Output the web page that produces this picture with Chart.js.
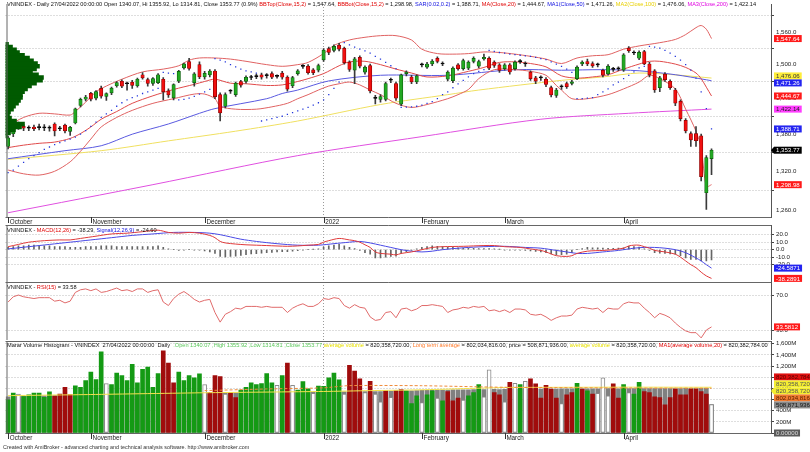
<!DOCTYPE html>
<html>
<head>
<meta charset="utf-8">
<title>VNINDEX Daily</title>
<script src="https://cdn.jsdelivr.net/npm/chart.js@4.4.1/dist/chart.umd.min.js"></script>
<style>
html,body{margin:0;padding:0;background:#fff;}
body{width:810px;height:452px;position:relative;overflow:hidden;font-family:"Liberation Sans",Arial,sans-serif;}
canvas{position:absolute;left:0;}
.ttl{position:absolute;left:7px;font-size:5.6px;line-height:8px;white-space:nowrap;color:#111;}
.r{color:#e00000}.b{color:#1010e0}.y{color:#e8d000}.m{color:#e000e0}.g{color:#5cc85c}.o{color:#ff7a2a}.yy{color:#e8e000}
.foot{position:absolute;left:3px;top:444px;font-size:5.4px;line-height:7px;color:#333;white-space:nowrap;}
</style>
</head>
<body>
<canvas id="cPrice" width="810" height="226" style="top:0px"></canvas>
<canvas id="cMacd" width="810" height="57" style="top:225px"></canvas>
<canvas id="cRsi" width="810" height="58" style="top:282px"></canvas>
<canvas id="cVol" width="810" height="101" style="top:341px"></canvas>

<div class="ttl" style="top:0px">VNINDEX - Daily 27/04/2022 00:00:00 Open 1340.07, Hi 1355.92, Lo 1314.81, Close 1353.77 (0.9%) <span class="r">BBTop(Close,15,2)</span> = 1,547.64, <span class="r">BBBot(Close,15,2)</span> = 1,298.98, <span class="b">SAR(0.02,0.2)</span> = 1,388.71, <span class="r">MA(Close,20)</span> = 1,444.67, <span class="b">MA1(Close,50)</span> = 1,471.26, <span class="y">MA2(Close,100)</span> = 1,476.06, <span class="m">MA3(Close,200)</span> = 1,422.14</div>
<div class="ttl" style="top:226px">VNINDEX - <span class="r">MACD(12,26)</span> = -38.29, <span class="b">Signal(12,26,9)</span> = -24.60</div>
<div class="ttl" style="top:283px">VNINDEX - <span class="r">RSI(15)</span> = 33.58</div>
<div class="ttl" style="top:341px;font-size:5.65px">Marar Volume Histogram - VNINDEX&nbsp; 27/04/2022 00:00:00&nbsp; Daily&nbsp; <span class="g">.Open 1340.07 ,High 1355.92 ,Low 1314.81 ,Close 1353.77</span> <span class="yy">average volume</span> = 820,358,720.00, <span class="o">Long term average</span> = 802,034,816.00, price = 508,871,936.00, <span class="yy">average volume</span> = 820,358,720.00, <span class="r">MA1(average volume,20)</span> = 820,382,784.00</div>
<div class="foot">Created with AmiBroker - advanced charting and technical analysis software. http://www.amibroker.com</div>

<script>
// ---------------- DATA ----------------
const months = [
  ['2021-10', [8,11,12,13,14,15,18,19,20,21,22,25,26,27,28,29]],
  ['2021-11', [1,2,3,4,5,8,9,10,11,12,15,16,17,18,19,22,23,24,25,26,29,30]],
  ['2021-12', [1,2,3,6,7,8,9,10,13,14,15,16,17,20,21,22,23,24,27,28,29,30,31]],
  ['2022-01', [4,5,6,7,10,11,12,13,14,17,18,19,20,21,24,25,26,27,28]],
  ['2022-02', [7,8,9,10,11,14,15,16,17,18,21,22,23,24,25,28]],
  ['2022-03', [1,2,3,4,7,8,9,10,11,14,15,16,17,18,21,22,23,24,25,28,29,30,31]],
  ['2022-04', [1,4,5,6,7,8,12,13,14,15,18,19,20,21,22,25,26,27]]
];
const monthNames = {'2021-10':'October','2021-11':'November','2021-12':'December','2022-01':'2022','2022-02':'February','2022-03':'March','2022-04':'April'};
const blankBars = 11;

const open = [1360,1380.7,1398,1393,1390,1392,1391,1391,1390,1397,
  1389,1395,1384.5,1398.6,1428.5,1439,1449.3,1441,1458,1444,
  1450,1462.5,1470.5,1466,1469,1462.5,1482,1473.5,1466.5,1468,
  1474,1453.5,1441.5,1470.5,1494,1505.5,1468,1500,1478,1481.5,
  1488.6,1447.1,1427,1453,1447.1,1470,1470,1477,1478.5,1482,
  1480.5,1484,1479,1485,1477.5,1462.5,1484,1497,1497.3,1490.8,
  1490,1508.6,1529,1526,1535.5,1529.5,1504.4,1490,1513.3,1486.5,
  1498.5,1440.5,1438.8,1438.8,1472.2,1466.5,1430.7,1484,1478,1469.4,
  1499.7,1495.4,1501.2,1511.5,1501.2,1474,1471.5,1499.7,1492.7,1493.8,
  1505.7,1497.3,1510.4,1511.5,1504.4,1499.7,1492.7,1499.7,1492.7,1505.5,
  1501.2,1486.8,1476.3,1476.3,1474,1459.1,1445.6,1460.8,1466.5,1466.5,
  1475.2,1501.2,1505.7,1502,1499.5,1489.8,1483.7,1491.5,1492.5,1490,
  1530.2,1521,1511.5,1523.5,1501.2,1488.8,1459.1,1483,1470.5,1455.1,
  1435.3,1403,1381,1381,1377.4,1286.4,1340.07];
const high = [1377,1396,1400,1396,1394,1395,1397,1396,1394,1399,
  1393,1397,1393,1424,1441,1446,1451,1454,1462,1450,
  1460,1470,1473,1469,1472,1476,1486,1476,1477,1484,
  1477,1457,1466,1490,1503,1511.5,1486,1505,1488,1491,
  1491,1450,1450,1456,1469,1472,1480,1481,1483,1485,
  1484,1487,1482,1488,1480,1479,1491,1500,1500,1493,
  1501,1529,1532,1536,1539,1532,1507,1513,1516,1498,
  1501,1446,1447,1469,1476,1469,1483,1489,1481,1482,
  1503,1504,1509,1514,1505,1489,1496,1502,1510,1507,
  1514,1508,1519,1514,1507,1502,1502,1502,1507,1509,
  1505,1489,1479,1480,1477,1462,1458,1464,1469,1472,
  1498,1507,1510,1505,1503,1492,1500,1495,1496,1520,
  1533,1525,1525,1526,1504,1491,1479,1486,1473,1458,
  1438,1406,1384,1392.7,1380,1345,1355.92];
const low = [1356,1376,1388,1386,1386,1386,1387,1386,1385,1377,
  1386,1382,1378,1397,1426,1436,1436,1438,1441,1437,
  1447,1460,1459,1455,1458,1460,1474,1462,1463,1466,
  1438,1442,1438,1468,1492,1490,1462,1475,1474,1478,
  1440,1402,1424,1449,1444,1460,1467,1473,1475,1474,
  1476,1475,1476,1474,1453,1459,1481,1493,1483,1482,
  1487,1506,1518,1523,1525,1501,1488,1466,1494,1483,
  1450,1431,1434,1436,1468,1437,1428,1480,1466,1466,
  1496,1493,1498,1503,1498,1471,1468,1490,1490,1491,
  1503,1494,1508,1491,1495,1486,1490,1483,1490,1502,
  1497,1472,1466,1472,1461,1443,1442,1456,1458,1464,
  1473,1498,1498,1495,1496,1478,1481,1488,1489,1488,
  1522,1518,1509,1500,1478,1451,1452,1470,1456,1428,
  1402,1382,1360,1360,1305,1261,1314.81];
const close = [1374,1393.7,1391,1390,1390.5,1389,1391.5,1390.5,1390.5,1385.5,
  1389.5,1385.5,1391.5,1422.6,1439,1443,1439.1,1452.2,1444.5,1448.8,
  1458.5,1468,1462,1466.5,1463,1474,1476.3,1466.5,1475,1482,
  1452.2,1446.6,1464.5,1487.8,1501.4,1493,1483.5,1478,1484.5,1488.6,
  1443.7,1415.7,1447,1453.5,1467,1463.6,1477.5,1477.5,1479,1477.5,
  1481,1477.5,1479.5,1477.5,1456.5,1477,1488.8,1497.5,1485.6,1485.6,
  1498.5,1526.5,1522,1533.1,1528.3,1503.5,1491.5,1510.5,1497.3,1495.5,
  1453.4,1441,1443.7,1466.5,1472.7,1440.8,1481.6,1486.8,1469.4,1479.8,
  1500.2,1501.2,1506.2,1505.7,1501.7,1486.8,1493.8,1492.7,1507.5,1504.4,
  1511.5,1505.7,1513.2,1493.8,1498.5,1489.8,1499.7,1486.8,1504.4,1506,
  1501.7,1475,1470.5,1476.8,1464.7,1446.6,1455.1,1461.3,1460.8,1469.4,
  1495.5,1504.4,1501.2,1497.8,1500,1481.1,1497.3,1492,1493,1517.7,
  1525.4,1521.5,1522.3,1501.2,1481.6,1455.1,1476.3,1473.3,1459.1,1432.4,
  1406.1,1385.5,1370.5,1369.4,1311.4,1341.7,1353.77];

const sar = [1318,1322,1328,1334,1340,1345,1350,1355,1359,1363,
  1366,1369,1372,1375,1380,1386,1393,1400,1408,1414,
  1420,1427,1433,1438,1442,1445,1449,1452,1455,1458,
  1486,1485,1484,1438,1439,1441,1444,1448,1452,1456,
  1511,1508,1505,1500,1496,1492,1489,1487,1485,1402,
  1404,1406,1408,1410,1413,1416,1419,1422,1425,1429,
  1433,1438,1447,1458,1469,1540,1536,1532,1528,1525,
  1521,1515,1510,1504,1498,1493,1425,1425.5,1426,1427,
  1429,1432,1435,1440,1447,1452,1459,1466,1472,1478,
  1484,1488,1491,1526,1524,1522,1521,1519,1518,1517,
  1516,1515,1513,1511,1509,1505,1501,1497,1492,1486,
  1440,1440,1441,1442,1447,1452,1457,1464,1469,1475,
  1481,1487,1494,1497,1533,1532,1530,1526,1521,1515,
  1508,1500,1490,1476,1452,1423,1388.71];

// sampled line readings [barIndex, value]
const bbTopPts = [[0,1394],[3,1408],[6,1415],[9,1414],[12,1412],[13,1418],[15,1434],[17,1452],[19,1462],[22,1474],[26,1487],[30,1492],[33,1498],[35,1508],[37,1512],[40,1512],[43,1510],[46,1506],[50,1500],[53,1497],[56,1500],[58,1504],[61,1520],[63,1535],[66,1545],[69,1550],[72,1553],[75,1553],[78,1545],[80,1528],[83,1520],[86,1519],[89,1520],[92,1523],[95,1522],[98,1519],[101,1515],[104,1510],[107,1502],[110,1512],[113,1516],[116,1518],[119,1528],[122,1534],[126,1540],[129,1546],[131,1555],[133,1568],[134,1572],[135,1565],[136,1547.64]];
const bbBotPts = [[0,1322],[3,1316],[6,1314],[9,1320],[12,1335],[14,1352],[16,1372],[18,1392],[21,1408],[24,1420],[28,1432],[32,1440],[36,1448],[38,1448],[40,1440],[41,1427],[44,1422],[48,1422],[51,1426],[54,1432],[56,1440],[58,1447],[60,1455],[62,1462],[64,1466],[66,1469],[68,1464],[70,1455],[72,1447],[75,1432],[78,1425],[81,1430],[85,1440],[87,1447],[89,1456],[91,1475],[94,1491],[98,1491],[101,1488],[104,1481],[106,1463],[107,1455],[109,1440],[112,1440],[116,1447],[119,1457],[122,1469],[124,1481],[126,1475],[129,1457],[131,1422],[133,1385],[134,1357],[135,1296],[136,1298.98]];
const ma20Pts = [[0,1358],[3,1362],[6,1365],[9,1367],[12,1373],[14,1381],[16,1392],[18,1405],[21,1418],[24,1432],[28,1445],[32,1456],[36,1465],[38,1470],[40,1474],[43,1467],[46,1466],[50,1463],[53,1464],[56,1470],[58,1475],[61,1484],[64,1498],[66,1505],[69,1506],[72,1500],[75,1492],[78,1485],[81,1478],[85,1480],[89,1488],[92,1495],[95,1504],[98,1505],[101,1502],[104,1496],[107,1480],[110,1476],[113,1478],[116,1482],[119,1492],[122,1501],[124,1506],[126,1506],[129,1501],[131,1495],[133,1485],[134,1475],[135,1460],[136,1444.67]];
const ma50Pts = [[0,1340],[11,1353],[18,1361],[24,1380],[31,1397],[37,1415],[40,1423],[50,1440],[53,1449],[56,1455],[62,1471],[72,1481],[85,1481],[98,1491],[107,1490],[115,1491],[122,1489],[129,1482],[135,1473],[136,1471.26]];
const ma100Pts = [[0,1339],[18,1353],[31,1369],[44,1385],[56,1402],[72,1430],[85,1447],[91,1455],[107,1472],[115,1478],[122,1485],[130,1481],[136,1476.06]];
const ma200Pts = [[0,1256],[28,1299],[56,1345],[80,1376],[103,1405],[120,1415],[136,1422.14]];

// volume-at-price profile (left side)
const profPrice = [1537,1532,1527,1522,1517,1512,1507,1502,1497,1492,1487,1482,1477,1472,1467,1462,1457,1452,1447,1442,1437,1432,1427,1422,1417,1412,1407,1402,1397,1392,1387,1382,1377];
const profVol = [3,7,11,14,19,24,28,32,34,31,27,33,38,37,31,26,22,19,17,17,15,13,10,8,5,4,6,11,19,16,10,5,2];

// MACD
const macdPts = [[0,4],[2,7],[4,10],[7,12],[10,13],[12,13],[14,15],[17,18],[20,21],[23,22],[26,24],[29,26],[31,23],[33,22],[35,23],[37,22],[39,19],[40,16],[41,11],[42,9],[44,7.5],[46,6.5],[50,5.5],[54,4.5],[56,5],[58,6],[60,7],[61,10],[62,12],[64,15],[66,13],[67,12],[68,10],[69,6.5],[70,3],[71,-3],[72,-5],[74,-6],[75,-7],[76,-5],[78,-3],[80,0],[82,3],[84,4],[88,4.5],[92,5.5],[94,5.5],[96,4],[99,3],[101,1],[103,-1],[104,-3],[106,-8],[108,-9],[109,-8],[110,-5],[112,-2],[115,-1],[117,0],[119,2],[120,5],[121,6],[122,6],[123,4],[124,2],[125,-1],[127,-3],[129,-6],[130,-10],[131,-15],[132,-20],[133,-24],[134,-30],[135,-35],[136,-38.29]];
const signalPts = [[0,1],[4,4],[8,7],[12,10],[16,13],[20,16],[24,19],[28,21],[32,23],[36,23],[39,22],[41,20],[43,17],[45,14],[48,11],[52,8],[56,6],[60,6],[63,8],[66,10],[68,11],[70,9],[72,6],[74,3],[76,0],[78,-2],[80,-3],[82,-2],[84,0],[88,2.5],[92,4],[96,4.5],[100,3],[103,2],[106,-1],[108,-3],[110,-5],[112,-5],[115,-3],[118,-1],[121,2],[123,3],[125,3],[127,2],[129,0],[131,-4],[133,-11],[134,-15],[135,-20],[136,-24.60]];
const macdHist = [3,4,5,5,6,6,5,5,5,4,4,4,3,
  3,3,4,4,4,5,5,5,4,4,4,4,4,4,4,4,5,
  3,1,0,-1,-0.5,0,-0.5,-0.7,-1.8,-3,
  -5,-9,-9.5,-9,-8.5,-7.5,-6.7,-5.8,-5.2,-4.6,
  -4,-3.5,-3,-2.7,-2.5,-1.9,-1.2,-0.5,0,0.5,1,
  3.5,5,6,7,5,3,1.5,-1,-4,
  -6,-11,-11,-10,-9,-8.5,-5,-3,-1,1,
  3,4,5,4.5,4,3.5,3,2.4,2,1.8,1.7,1.6,1.5,
  1.3,1.1,0.3,-0.5,-0.5,-0.4,-0.4,-1,-1.5,-2.2,-3,-4,-5.5,-7,-6.5,-6,-4,
  0,1.5,3,2.6,2.3,2,1.8,1.7,2,2.3,4.5,4,3.5,
  1,-1,-4,-4.5,-5,-5.5,-6,-8,-11,-13,-13,-15,-15,-13.7];

// RSI(15)
const rsi = [62,68,70,68,67,66,67,67,67,63,
  64,61,63,73,76,77,75,77,73,74,
  76,78,75,76,74,77,77,73,75,76,
  62,58,66,71,74,70,65,62,64,65,
  50,39,48,51,55,54,57,57,57,56,
  57,56,56,56,50,55,58,60,57,57,
  60,66,65,67,66,58,55,59,56,55,
  45,41,42,50,51,44,54,55,52,54,
  58,58,59,58,57,50,53,54,56,55,
  57,56,57,52,53,51,53,50,54,54,
  53,48,47,48,45,41,44,46,46,47,
  54,56,55,54,55,50,55,54,54,60,
  62,61,61,55,50,44,49,47,44,38,
  33,29,27,27,21,30,33.58];

// Volume (millions)
const volM = [595,716,698,655,685,716,716,640,740,660,
  700,820,690,845,818,940,1091,958,1455,885,
  867,1073,1031,940,1231,898,1140,1182,818,1067,
  1473,1255,900,1091,940,1031,989,1061,867,727,
  1031,1013,698,727,636,771,818,898,867,885,
  1067,898,855,1031,1255,855,771,920,790,710,
  843,836,989,1073,952,700,1212,1109,970,727,
  927,698,560,760,640,760,780,758,527,667,
  545,685,758,625,576,745,576,625,589,667,
  727,867,649,1134,727,685,560,909,891,867,
  927,970,880,625,855,789,625,527,685,727,
  891,789,758,698,710,989,667,880,625,867,
  727,698,909,745,727,649,636,503,636,789,
  685,685,789,789,745,698,508.87];
// u = up / strong, d = down, n = low-activity (hollow)
const volType = ['u','u','n','u','u','u','u','u','u','d',
  'd','d','d','u','u','u','u','u','u','n',
  'u','u','u','u','u','u','u','u','u','u',
  'd','d','d','u','u','u','u','u','n','d',
  'd','d','n','d','d','u','u','u','u','u',
  'u','u','n','u','d','n','u','u','u','n',
  'u','u','u','u','u','n','d','d','d','n',
  'd','n','n','d','n','d','d','u','u','u',
  'n','u','u','n','u','d','d','d','n','u',
  'u','u','n','n','d','d','n','d','n','u',
  'n','d','d','d','d','d','d','n','d','d',
  'u','d','u','d','n','n','n','d','d','u',
  'n','u','u','d','d','d','d','d','d','d',
  'd','d','d','d','d','d','n'];
const priceHist = [650,652,655,656,660,661,664,665,668,670,
  672,673,676,677,680,682,684,685,688,690,
  692,693,696,697,700,702,703,706,707,710,
  712,713,716,717,720,719,721,720,722,720,
  721,720,722,723,722,724,725,724,726,727,
  726,728,727,729,730,731,730,732,733,732,
  734,735,736,737,738,739,740,741,740,742,
  743,744,745,746,747,748,750,752,756,760,
  764,766,768,769,771,772,773,774,775,776,
  777,778,779,780,781,780,782,783,784,785,
  784,786,787,786,788,789,788,790,791,790,
  790,792,793,792,792,794,795,794,794,795,
  795,796,796,797,796,796,797,798,797,798,
  798,799,799,800,800,800,508.87];
const avgVolPts = [[0,670],[16,690],[38,722],[61,745],[70,760],[80,775],[96,815],[110,820],[120,822],[136,820.36]];
const longAvgPts = [[38,760],[50,790],[61,810],[66,850],[80,848],[96,820],[120,806],[136,802.03]];

const priceTicks = [1260,1320,1380,1440,1500,1560];
const macdTicks = [-20,-10,0,10,20];
const rsiTicks = [30,70];
const volTicks = [0,200,400,600,800,1000,1200,1400,1600];

// ---------------- BUILD ----------------
const FONT = '"Liberation Sans", Arial, sans-serif';
const TICKFONT = {size: 6.1, family: FONT};
const dates = [], tickText = [];
months.forEach(([ym, days]) => days.forEach((d, k) => {
  dates.push(ym + '-' + String(d).padStart(2, '0'));
  tickText.push(k === 0 ? monthNames[ym] : '');
}));
const cats = dates.slice();
for (let k = 1; k <= blankBars; k++) { cats.push('+' + k); tickText.push(''); }
const yearIdx = dates.indexOf('2022-01-04');
const pts = arr => arr.map(([i, v]) => ({x: cats[i], y: v}));

const bodyFill = open.map((o, i) => Math.abs(close[i] - o) < 1 ? '#000000' : (close[i] > o ? '#22a822' : '#f01010'));
const bodyEdge = open.map((o, i) => Math.abs(close[i] - o) < 1 ? '#000000' : (close[i] > o ? '#0b5a0b' : '#8a0000'));
const volFill = volType.map(t => t === 'u' ? '#149a14' : t === 'd' ? '#a00c0c' : '#ffffff');
const volEdge = volType.map(t => t === 'n' ? '#8a8a8a' : 'rgba(0,0,0,0)');
const volEdgeW = volType.map(t => t === 'n' ? 1 : 0);

const fmt = (v, d) => v.toLocaleString('en-US', {minimumFractionDigits: d, maximumFractionDigits: d});

function xScale(showLabels) {
  return {
    type: 'category', labels: cats, offset: true, position: 'bottom',
    grid: {display: true, drawOnChartArea: true, drawTicks: false, offset: false, lineWidth: 1,
      color: c => (c.index === yearIdx ? '#9a9a9a' : 'rgba(0,0,0,0)')},
    border: {display: false, dash: [1, 2]},
    ticks: {display: showLabels, autoSkip: false, maxRotation: 0, minRotation: 0, align: 'start', padding: 1,
      font: {size: 6.3, family: FONT}, color: '#222',
      callback: (v, i) => (tickText[i] ? ' ' + tickText[i] : '')},
    afterFit: s => { s.height = showLabels ? 9 : 0; s.paddingLeft = 0; s.paddingRight = 0; }
  };
}
function yScale(extra, tickCb) {
  return Object.assign({
    position: 'right', bounds: 'data', offset: false,
    grid: {color: '#bdbdbd', lineWidth: 1, drawTicks: true, tickLength: 3, tickColor: '#444'},
    border: {display: true, color: '#555', dash: [1, 2]},
    ticks: {font: TICKFONT, color: '#222', padding: 2, autoSkip: false, callback: tickCb},
    afterFit: s => { s.width = 39; s.paddingTop = 0; s.paddingBottom = 0; }
  }, extra);
}

function framePlugin(showMonthTicks, topLine) {
  return {
    id: 'frame',
    afterDraw(chart) {
      const {ctx, chartArea: a} = chart;
      const xs = chart.scales.x;
      ctx.save();
      ctx.strokeStyle = '#666'; ctx.lineWidth = 1;
      ctx.beginPath();
      ctx.moveTo(a.left + 1.5, a.top); ctx.lineTo(a.left + 1.5, a.bottom);
      ctx.moveTo(a.left, a.bottom + 0.5); ctx.lineTo(a.right, a.bottom + 0.5);
      if (topLine) { ctx.moveTo(a.left, a.top + 0.5); ctx.lineTo(a.right, a.top + 0.5); }
      ctx.stroke();
      if (showMonthTicks) {
        ctx.strokeStyle = '#333';
        ctx.beginPath();
        tickText.forEach((t, i) => {
          if (!t) return;
          const x = Math.round(xs.getPixelForTick(i)) + 0.5;
          ctx.moveTo(x, a.bottom); ctx.lineTo(x, a.bottom + 6);
        });
        ctx.stroke();
      }
      ctx.restore();
    }
  };
}

function labelPlugin(items) {
  return {
    id: 'valueLabels',
    afterDraw(chart) {
      const {ctx, chartArea: a} = chart;
      const ys = chart.scales.y;
      const h = 7;
      const arr = items.map(it => Object.assign({}, it, {py: ys.getPixelForValue(it.value)}));
      arr.sort((p, q) => p.py - q.py);
      let cl = arr.map(it => ({items: [it], c: it.py}));
      let merged = true;
      while (merged) {
        merged = false;
        for (let i = 0; i < cl.length - 1; i++) {
          const A = cl[i], B = cl[i + 1];
          if (A.c + A.items.length * h / 2 > B.c - B.items.length * h / 2) {
            const its = A.items.concat(B.items);
            cl.splice(i, 2, {items: its, c: its.reduce((s, t) => s + t.py, 0) / its.length});
            merged = true; break;
          }
        }
      }
      ctx.save();
      ctx.font = '6.1px ' + FONT;
      ctx.textBaseline = 'middle';
      const x0 = a.right + 3;
      cl.forEach(C => {
        const n = C.items.length;
        C.items.forEach((it, k) => {
          const cy = C.c - n * h / 2 + h * (k + 0.5);
          const w = ctx.measureText(it.text).width + 4;
          ctx.fillStyle = it.bg;
          ctx.fillRect(x0, cy - h / 2, w, h);
          if (it.arrow) {
            ctx.beginPath(); ctx.moveTo(a.right, cy); ctx.lineTo(x0, cy - h / 2); ctx.lineTo(x0, cy + h / 2); ctx.closePath(); ctx.fill();
          }
          ctx.fillStyle = it.fg;
          ctx.fillText(it.text, x0 + 2, cy + 0.5);
        });
      });
      ctx.restore();
    }
  };
}

Chart.defaults.font.family = FONT;
const common = {
  responsive: false, maintainAspectRatio: false, animation: false, devicePixelRatio: 1, events: [],
  plugins: {legend: {display: false}, tooltip: {enabled: false}, title: {display: false}}
};
const line = (label, data, color, extra) => Object.assign({type: 'line', label, data, xAxisID: 'x', yAxisID: 'y',
  borderColor: color, borderWidth: 1, pointRadius: 0, tension: 0.3, fill: false}, extra || {});

// PRICE PANE
new Chart(document.getElementById('cPrice'), {
  type: 'bar',
  data: {labels: cats, datasets: [
    {type: 'bar', label: 'Volume at price', indexAxis: 'y', xAxisID: 'xp', yAxisID: 'y',
      data: profPrice.map((p, i) => ({x: profVol[i], y: p})), backgroundColor: '#005a00',
      barThickness: 3.8, grouped: false, order: -1},
    {type: 'bar', label: 'Candle body', xAxisID: 'x', yAxisID: 'y', data: open.map((o, i) => [o, close[i]]),
      backgroundColor: bodyFill, borderColor: bodyEdge, borderWidth: 0.7, borderSkipped: false,
      barThickness: 3.4, minBarLength: 1, grouped: false, order: 0},
    {type: 'bar', label: 'Candle range', xAxisID: 'x', yAxisID: 'y', data: low.map((l, i) => [l, high[i]]),
      backgroundColor: '#3a3a3a', barThickness: 1, grouped: false, order: 1},
    line('SAR(0.02,0.2)', sar, '#1a2cd8', {showLine: false, pointRadius: 0.9, pointStyle: 'rect',
      pointBackgroundColor: '#2236dc', pointBorderWidth: 0, order: 2}),
    line('BBTop(Close,15,2)', pts(bbTopPts), '#e06262', {order: 3}),
    line('BBBot(Close,15,2)', pts(bbBotPts), '#e06262', {order: 3}),
    line('MA(Close,20)', pts(ma20Pts), '#e04a4a', {order: 3}),
    line('MA1(Close,50)', pts(ma50Pts), '#5a5ae0', {order: 4}),
    line('MA2(Close,100)', pts(ma100Pts), '#f0e060', {order: 4}),
    line('MA3(Close,200)', pts(ma200Pts), '#e050e0', {order: 4})
  ]},
  options: Object.assign({}, common, {
    layout: {padding: {left: 5.5, top: 1, right: 0, bottom: 0}},
    scales: {
      x: xScale(true),
      xp: {type: 'linear', axis: 'x', display: false, min: 0, max: 766, offset: false, position: 'top',
        grid: {offset: false}},
      y: yScale({type: 'logarithmic', min: 1249.6, max: 1613.1,
        afterBuildTicks: s => { s.ticks = priceTicks.map(v => ({value: v})); }}, v => fmt(v, 1))
    }
  }),
  plugins: [framePlugin(true, false), labelPlugin([
    {value: 1547.64, text: '1,547.64', bg: '#ff1a1a', fg: '#ffffff'},
    {value: 1476.06, text: '1,476.06', bg: '#ffee3a', fg: '#333333'},
    {value: 1471.26, text: '1,471.26', bg: '#2424f0', fg: '#ffffff'},
    {value: 1444.67, text: '1,444.67', bg: '#ff1a1a', fg: '#ffffff'},
    {value: 1422.14, text: '1,422.14', bg: '#ff3cff', fg: '#222222'},
    {value: 1388.71, text: '1,388.71', bg: '#2424f0', fg: '#ffffff'},
    {value: 1353.77, text: '1,353.77', bg: '#000000', fg: '#ffffff', arrow: true},
    {value: 1298.98, text: '1,298.98', bg: '#ff1a1a', fg: '#ffffff'}
  ])]
});

// MACD PANE
new Chart(document.getElementById('cMacd'), {
  type: 'bar',
  data: {labels: cats, datasets: [
    {type: 'bar', label: 'MACD histogram', xAxisID: 'x', yAxisID: 'y', data: macdHist, backgroundColor: '#666666',
      barThickness: 1, grouped: false, order: 3},
    line('MACD(12,26)', pts(macdPts), '#e03a3a', {order: 1}),
    line('Signal(12,26,9)', pts(signalPts), '#4a4ae6', {order: 2})
  ]},
  options: Object.assign({}, common, {
    layout: {padding: {left: 5.5, top: 0, right: 0, bottom: 0}},
    scales: {
      x: xScale(false),
      y: yScale({type: 'linear', min: -43.1, max: 32.9,
        afterBuildTicks: s => { s.ticks = macdTicks.map(v => ({value: v})); }}, v => fmt(v, 1))
    }
  }),
  plugins: [framePlugin(false, true), labelPlugin([
    {value: -24.5871, text: '-24.5871', bg: '#2424f0', fg: '#ffffff'},
    {value: -38.2891, text: '-38.2891', bg: '#ff1a1a', fg: '#ffffff'}
  ])]
});

// RSI PANE
new Chart(document.getElementById('cRsi'), {
  type: 'bar',
  data: {labels: cats, datasets: [
    line('RSI(15)', rsi, '#e06a6a', {tension: 0})
  ]},
  options: Object.assign({}, common, {
    layout: {padding: {left: 5.5, top: 0, right: 0, bottom: 0}},
    scales: {
      x: xScale(false),
      y: yScale({type: 'linear', min: 18.6, max: 84.9,
        afterBuildTicks: s => { s.ticks = rsiTicks.map(v => ({value: v})); }}, v => fmt(v, 1))
    }
  }),
  plugins: [framePlugin(false, true), labelPlugin([
    {value: 33.5812, text: '33.5812', bg: '#ff1a1a', fg: '#ffffff'}
  ])]
});

// VOLUME PANE
new Chart(document.getElementById('cVol'), {
  type: 'bar',
  data: {labels: cats, datasets: [
    {type: 'bar', label: 'price', xAxisID: 'x', yAxisID: 'y', data: priceHist, backgroundColor: '#808080',
      barThickness: 4, grouped: false, order: 4},
    {type: 'bar', label: 'Volume', xAxisID: 'x', yAxisID: 'y', data: volM, backgroundColor: volFill,
      borderColor: volEdge, borderWidth: volEdgeW, borderSkipped: false, barThickness: 4, grouped: false, order: 3},
    line('Long term average', pts(longAvgPts), '#f08a3a', {borderDash: [3, 2], order: 1, tension: 0.2}),
    line('average volume', pts(avgVolPts), '#f2e24a', {order: 1, tension: 0.2})
  ]},
  options: Object.assign({}, common, {
    layout: {padding: {left: 5.5, top: 0, right: 0, bottom: 0}},
    scales: {
      x: xScale(true),
      y: yScale({type: 'linear', min: 0, max: 1650,
        afterBuildTicks: s => { s.ticks = volTicks.map(v => ({value: v})); }},
        v => (v === 0 ? '0' : fmt(v, 0) + 'M'))
    }
  }),
  plugins: [framePlugin(true, true), labelPlugin([
    {value: 820.38, text: '820,382,784.00', bg: '#e01010', fg: '#5a0000'},
    {value: 820.36, text: '820,358,720.00', bg: '#f4ee30', fg: '#555555'},
    {value: 820.36, text: '820,358,720.00', bg: '#f4ee30', fg: '#555555', arrow: true},
    {value: 802.03, text: '802,034,816.00', bg: '#f07a30', fg: '#5a2000'},
    {value: 508.87, text: '508,871,936.00', bg: '#8a8a8a', fg: '#111111'},
    {value: 0, text: '0.00000', bg: '#5a5a5a', fg: '#dddddd'}
  ])]
});
</script>
</body>
</html>
